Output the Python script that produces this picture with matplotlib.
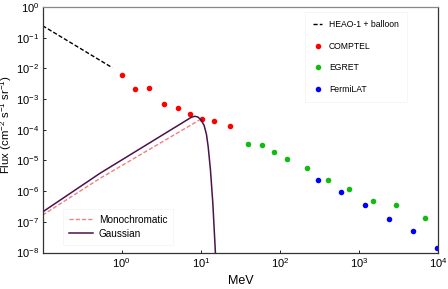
import matplotlib
matplotlib.use("Agg")
import matplotlib.pyplot as plt
from matplotlib.ticker import FixedLocator, NullLocator

# ---- data ----
heao_e = [0.1, 0.76]
heao_f = [0.245, 1.05e-2]

comptel_e = [1.0, 1.49, 2.2, 3.45, 5.1, 7.4, 10.5, 14.5, 23.2]
comptel_f = [6.1e-3, 2.1e-3, 2.3e-3, 6.8e-4, 5.0e-4, 3.3e-4, 2.2e-4, 1.9e-4, 1.33e-4]

egret_e = [39.5, 60, 84, 123, 221, 400, 742, 1500, 2960, 6900]
egret_f = [3.4e-5, 3.2e-5, 1.9e-5, 1.14e-5, 5.8e-6, 2.37e-6, 1.15e-6, 4.7e-7, 3.5e-7, 1.37e-7]

fermi_e = [299, 590, 1190, 2380, 4800, 9600]
fermi_f = [2.37e-6, 9.4e-7, 3.5e-7, 1.24e-7, 4.9e-8, 1.45e-8]

mono_e = [0.1, 0.53, 9.7]
mono_f = [1.66e-7, 2.6e-6, 2.1e-4]

gauss_e = [0.1, 0.53, 7.6, 8.4, 9.2, 10.1, 11.0, 11.8, 12.4, 13.25, 14.2, 15.3]
gauss_f = [2.1e-7, 3.8e-6, 2.55e-4, 2.75e-4, 2.6e-4, 2.05e-4, 1.4e-4, 7e-5, 2.8e-5, 4.9e-6, 4e-7, 1.0e-8]

plt.rcParams["font.family"] = ["Liberation Sans", "DejaVu Sans"]
plt.rcParams["mathtext.fontset"] = "custom"
plt.rcParams["mathtext.rm"] = "Liberation Sans"
plt.rcParams["mathtext.it"] = "Liberation Sans:italic"

fig = plt.figure(figsize=(4.48, 2.89), dpi=100)
ax = fig.add_axes([0.095, 0.126, 0.883, 0.850])

h_heao, = ax.plot(heao_e, heao_f, ls="--", color="black", lw=1.0, dashes=(3, 1.5),
                  label="HEAO-1 + balloon")
h_comp, = ax.plot(comptel_e, comptel_f, ls="none", marker="o", ms=4, color="#ff0000",
                  mec="none", label="COMPTEL")
h_egr, = ax.plot(egret_e, egret_f, ls="none", marker="o", ms=4, color="#11bb11",
                 mec="none", label="EGRET")
h_fer, = ax.plot(fermi_e, fermi_f, ls="none", marker="o", ms=4, color="#0000ff",
                 mec="none", label="FermiLAT")
h_mono, = ax.plot(mono_e, mono_f, ls="--", color="#f08080", lw=1.0, dashes=(3, 1.5),
                  label="Monochromatic")
h_gau, = ax.plot(gauss_e, gauss_f, ls="-", color="#4b124b", lw=1.1, label="Gaussian")

ax.set_xscale("log")
ax.set_yscale("log")
ax.set_xlim(0.1, 1e4)
ax.set_ylim(1e-8, 1)

ax.xaxis.set_major_locator(FixedLocator([1, 10, 100, 1000, 10000]))
ax.yaxis.set_major_locator(FixedLocator([10.0 ** k for k in range(-8, 1)]))
ax.xaxis.set_minor_locator(NullLocator())
ax.yaxis.set_minor_locator(NullLocator())
ax.tick_params(direction="in", length=2.5, width=0.6, labelsize=8, pad=2.5)

for s in ax.spines.values():
    s.set_color("#333333")
    s.set_linewidth(0.9)
ax.spines["top"].set_color("#888888")

ax.set_xlabel("MeV", fontsize=9)
ax.xaxis.set_label_coords(0.5, -0.115)
ax.xaxis.label.set_va("center")
ax.set_ylabel(r"Flux (cm$^{-2}$ s$^{-1}$ sr$^{-1}$)", fontsize=8.2)
ax.yaxis.set_label_coords(-0.091, 0.52)
ax.yaxis.label.set_va("center")

leg1 = ax.legend(handles=[h_heao, h_comp, h_egr, h_fer], loc="upper right",
                 bbox_to_anchor=(0.922, 0.981), fontsize=6.2, frameon=True,
                 fancybox=False, labelspacing=1.45, handlelength=1.0,
                 handletextpad=0.8, borderpad=1.0, borderaxespad=0)
leg1.get_frame().set_edgecolor("#f2f2f2")
leg1.get_frame().set_linewidth(0.6)
ax.add_artist(leg1)

leg2 = ax.legend(handles=[h_mono, h_gau], loc="lower left",
                 bbox_to_anchor=(0.051, 0.031), fontsize=7.2, frameon=True,
                 fancybox=False, labelspacing=0.4, handlelength=2.4,
                 handletextpad=0.6, borderpad=0.6, borderaxespad=0)
leg2.get_frame().set_edgecolor("#f2f2f2")
leg2.get_frame().set_linewidth(0.6)

fig.savefig("out.png", dpi=100)
